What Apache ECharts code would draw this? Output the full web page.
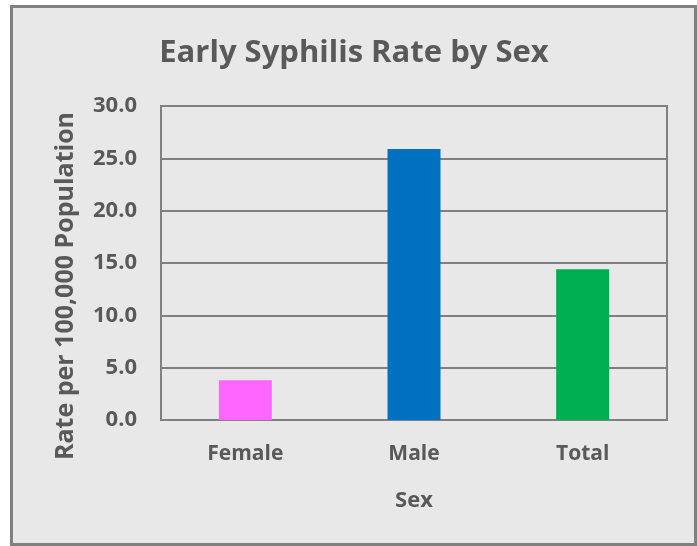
<!DOCTYPE html>
<html>
<head>
<meta charset="utf-8">
<script src="https://cdn.jsdelivr.net/npm/echarts@6/dist/echarts.min.js"></script>
<style>
  html, body { margin: 0; padding: 0; background: #fff; }
  #chart { width: 697px; height: 546px; }
</style>
</head>
<body>
<div id="chart"></div>
<script>
// data
var categories = ['Female', 'Male', 'Total']
var rates = [3.8, 25.9, 14.4]
var barColors = ['#FF66FF', '#0070C0', '#00B050']
var yTicks = { min: 0, max: 30, step: 5 }

var textColor = '#595959'
var fontFamily = '"Open Sans", "Liberation Sans", sans-serif'

var chart = echarts.init(document.getElementById('chart'))
chart.setOption({
  backgroundColor: '#ffffff',
  animation: false,
  graphic: [
    {
      type: 'rect',
      z: -10,
      shape: { x: 11.5, y: 6.5, width: 684, height: 538 },
      style: { fill: '#E8E8E8', stroke: '#808080', lineWidth: 3 }
    },
    {
      type: 'text',
      x: 354,
      y: 53,
      style: {
        text: 'Early Syphilis Rate by Sex',
        fill: textColor,
        font: 'bold 31px ' + fontFamily,
        align: 'center',
        verticalAlign: 'middle'
      }
    },
    {
      // y axis title, centred a little below the plot centre as in the picture
      type: 'text',
      x: 66,
      y: 286,
      rotation: Math.PI / 2,
      style: {
        text: 'Rate per 100,000 Population',
        fill: textColor,
        font: 'bold 25px ' + fontFamily,
        align: 'center',
        verticalAlign: 'middle'
      }
    }
  ],
  grid: {
    left: 161,
    right: 30,
    top: 106,
    bottom: 126,
    show: true,
    borderColor: '#808080',
    borderWidth: 2
  },
  xAxis: {
    type: 'category',
    data: categories,
    name: 'Sex',
    nameLocation: 'middle',
    nameGap: 70,
    nameTextStyle: { color: textColor, fontSize: 22, fontWeight: 'bold', fontFamily: fontFamily },
    axisLine: { show: true, lineStyle: { color: '#808080', width: 2 } },
    axisTick: { show: false },
    axisLabel: { color: textColor, fontSize: 21, fontWeight: 'bold', fontFamily: fontFamily, margin: 24 }
  },
  yAxis: {
    type: 'value',
    min: yTicks.min,
    max: yTicks.max,
    interval: yTicks.step,
    axisLine: { show: false },
    axisTick: { show: false },
    axisLabel: {
      color: textColor,
      fontSize: 22,
      fontWeight: 'bold',
      fontFamily: fontFamily,
      margin: 24,
      formatter: function (v) { return v.toFixed(1) }
    },
    splitLine: { lineStyle: { color: '#808080', width: 2 } }
  },
  series: [
    {
      type: 'bar',
      barWidth: 53,
      data: rates.map(function (v, i) {
        return { value: v, itemStyle: { color: barColors[i] } }
      })
    }
  ]
})
</script>
</body>
</html>
